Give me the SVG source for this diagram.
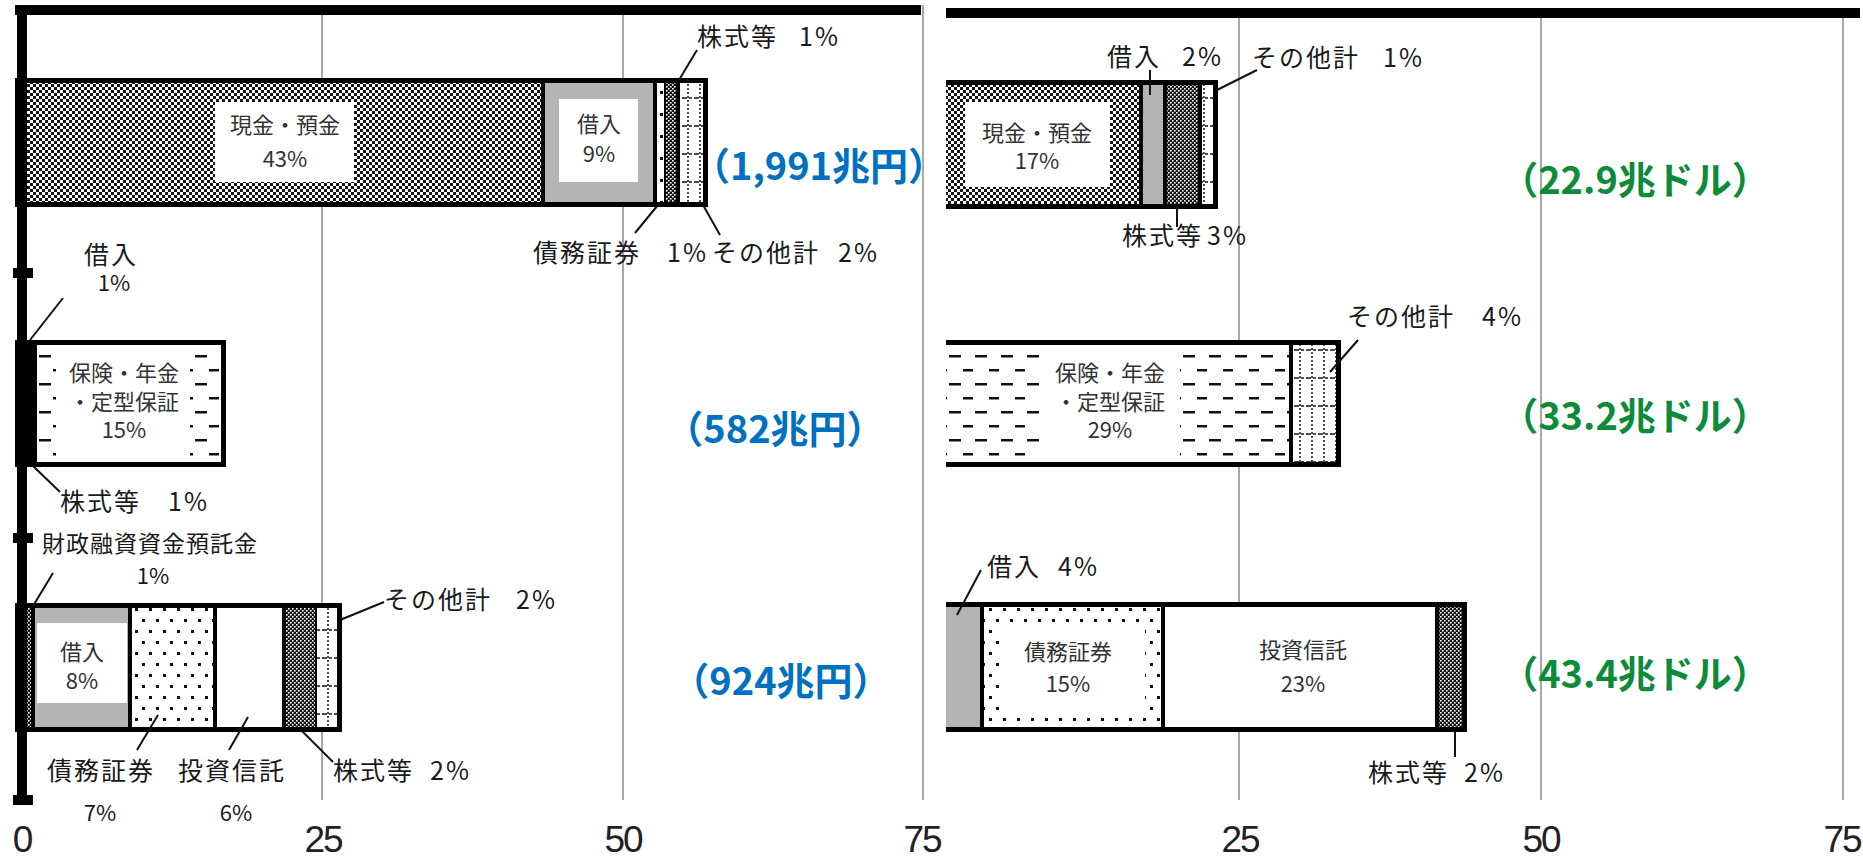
<svg xmlns="http://www.w3.org/2000/svg" width="1863" height="859" viewBox="0 0 1863 859">
<style>
.lbl{font-family:"Noto Sans CJK JP","Liberation Sans",sans-serif;font-size:25px;fill:#1a1a1a;letter-spacing:2px}
.sm{font-family:"Noto Sans CJK JP","Liberation Sans",sans-serif;font-size:22px;fill:#1a1a1a}
.in{font-family:"Noto Sans CJK JP","Liberation Sans",sans-serif;font-size:22px;fill:#333;text-anchor:middle}
.ax{font-family:"Liberation Sans",Arial,sans-serif;font-size:37px;fill:#222;text-anchor:middle;letter-spacing:-2px}
.tot{font-family:"Noto Sans CJK JP","Liberation Sans",sans-serif;font-weight:700;font-size:38px;text-anchor:middle}
.blue{fill:#0070C0}
.green{fill:#0E8B3A}
.ld{stroke:#111;stroke-width:2;fill:none}
.bd{fill:none;stroke:#000;stroke-width:5}
.dv{stroke:#000;stroke-width:4}
.dvt{stroke:#000;stroke-width:2}
.grid{stroke:#8a8a8a;stroke-width:1.5}
.gray{fill:#b4b4b4}
.wh{fill:#fff}
</style>
<defs>
<pattern id="pCash" width="6" height="6" patternUnits="userSpaceOnUse"><rect width="6" height="6" fill="#141414"/><rect width="3" height="3" fill="#fff"/><rect x="3" y="3" width="3" height="3" fill="#fff"/></pattern>
<pattern id="pStock" width="4" height="4" patternUnits="userSpaceOnUse"><rect width="4" height="4" fill="#111"/><rect width="1.6" height="1.6" fill="#fff"/><rect x="2" y="2" width="1.6" height="1.6" fill="#fff"/></pattern>
<pattern id="pDots" width="14" height="22" patternUnits="userSpaceOnUse"><rect width="14" height="22" fill="#fff"/><rect x="2" y="3" width="3" height="3" fill="#111"/><rect x="9" y="14" width="3" height="3" fill="#111"/></pattern>
<pattern id="pOther" width="12" height="28" patternUnits="userSpaceOnUse"><rect width="12" height="28" fill="#fff"/><line x1="4" y1="0" x2="4" y2="28" stroke="#111" stroke-width="1.5" stroke-dasharray="2 2"/><line x1="0" y1="14" x2="12" y2="14" stroke="#111" stroke-width="1.5" stroke-dasharray="3 2"/></pattern>
<pattern id="pIns" width="26" height="28" patternUnits="userSpaceOnUse"><rect width="26" height="28" fill="#fff"/><rect x="1" y="5" width="10" height="2.5" fill="#111"/><rect x="13" y="19" width="12" height="2.5" fill="#111"/></pattern>
<clipPath id="clipR"><rect x="946" y="0" width="917" height="859"/></clipPath>
</defs>
<rect width="1863" height="859" fill="#fff"/>

<g id="grid">
<line class="grid" x1="322" y1="15" x2="322" y2="800"/>
<line class="grid" x1="623" y1="15" x2="623" y2="800"/>
<line class="grid" x1="923" y1="5" x2="923" y2="800"/>
<line class="grid" x1="1239" y1="18" x2="1239" y2="800"/>
<line class="grid" x1="1541" y1="18" x2="1541" y2="800"/>
<line class="grid" x1="1843" y1="18" x2="1843" y2="800"/>
</g>

<g id="frame">
<rect x="15" y="5" width="906" height="10" fill="#000"/>
<rect x="946" y="8" width="914" height="10" fill="#000"/>
</g>

<g id="bar-L1">
<rect x="15" y="78" width="528" height="129" fill="url(#pCash)"/>
<rect x="543" y="78" width="112" height="129" class="gray"/>
<rect x="655" y="78" width="10" height="129" fill="url(#pDots)"/>
<rect x="665" y="78" width="13" height="129" fill="url(#pStock)"/>
<rect x="678" y="78" width="30" height="129" fill="url(#pOther)"/>
<rect x="215" y="102" width="139" height="80" class="wh"/>
<rect x="559" y="99" width="79" height="83" class="wh"/>
<line class="dv" x1="543" y1="78" x2="543" y2="207"/>
<line class="dv" x1="655" y1="78" x2="655" y2="207"/>
<line class="dvt" x1="665" y1="78" x2="665" y2="207"/>
<line class="dv" x1="678" y1="78" x2="678" y2="207"/>
<rect class="bd" x="17.5" y="80.5" width="688" height="124"/>
<text class="in" x="285" y="133">現金・預金</text>
<text class="in" x="285" y="167">43%</text>
<text class="in" x="599" y="132">借入</text>
<text class="in" x="599" y="162">9%</text>
</g>

<g id="bar-L2">
<rect x="15" y="340" width="22" height="127" fill="#000"/>
<rect x="37" y="340" width="189" height="127" fill="url(#pIns)"/>
<rect x="56" y="345" width="134" height="117" class="wh"/>
<rect class="bd" x="17.5" y="342.5" width="206" height="122"/>
<text class="in" x="124" y="381">保険・年金</text>
<text class="in" x="124" y="410">・定型保証</text>
<text class="in" x="124" y="438">15%</text>
</g>

<g id="bar-L3">
<rect x="15" y="603" width="18" height="129" fill="url(#pStock)"/>
<rect x="33" y="603" width="97" height="129" class="gray"/>
<rect x="130" y="603" width="85" height="129" fill="url(#pDots)"/>
<rect x="215" y="603" width="69" height="129" class="wh"/>
<rect x="284" y="603" width="32" height="129" fill="url(#pStock)"/>
<rect x="316" y="603" width="26" height="129" fill="url(#pOther)"/>
<rect x="37" y="623" width="90" height="80" class="wh"/>
<line class="dv" x1="33" y1="603" x2="33" y2="732"/>
<line class="dv" x1="130" y1="603" x2="130" y2="732"/>
<line class="dv" x1="215" y1="603" x2="215" y2="732"/>
<line class="dv" x1="284" y1="603" x2="284" y2="732"/>
<line class="dvt" x1="316" y1="603" x2="316" y2="732"/>
<rect class="bd" x="17.5" y="605.5" width="322" height="124"/>
<text class="in" x="82" y="660">借入</text>
<text class="in" x="82" y="689">8%</text>
</g>

<g id="axis-left">
<rect x="17" y="5" width="10" height="800" fill="#000"/>
<rect x="13" y="268" width="20" height="10" fill="#000"/>
<rect x="13" y="533" width="20" height="10" fill="#000"/>
<rect x="13" y="795" width="20" height="10" fill="#000"/>
</g>

<g id="bars-right" clip-path="url(#clipR)">
<g id="bar-R1">
<rect x="930" y="80" width="211" height="129" fill="url(#pCash)"/>
<rect x="1141" y="80" width="24" height="129" class="gray"/>
<rect x="1165" y="80" width="35" height="129" fill="url(#pStock)"/>
<rect x="1200" y="80" width="18" height="129" fill="url(#pOther)"/>
<rect x="965" y="102" width="145" height="85" class="wh"/>
<line class="dv" x1="1141" y1="80" x2="1141" y2="209"/>
<line class="dv" x1="1165" y1="80" x2="1165" y2="209"/>
<line class="dv" x1="1200" y1="80" x2="1200" y2="209"/>
<rect class="bd" x="932.5" y="82.5" width="283" height="124"/>
<text class="in" x="1037" y="141">現金・預金</text>
<text class="in" x="1037" y="169">17%</text>
</g>
<g id="bar-R2">
<rect x="930" y="340" width="361" height="127" fill="url(#pIns)"/>
<rect x="1291" y="340" width="50" height="127" fill="url(#pOther)"/>
<rect x="1040" y="345" width="140" height="117" class="wh"/>
<line class="dv" x1="1291" y1="340" x2="1291" y2="467"/>
<rect class="bd" x="932.5" y="342.5" width="406" height="122"/>
<text class="in" x="1110" y="381">保険・年金</text>
<text class="in" x="1110" y="410">・定型保証</text>
<text class="in" x="1110" y="438">29%</text>
</g>
<g id="bar-R3">
<rect x="930" y="602" width="52" height="130" class="gray"/>
<rect x="982" y="602" width="181" height="130" fill="url(#pDots)"/>
<rect x="1163" y="602" width="274" height="130" class="wh"/>
<rect x="1437" y="602" width="30" height="130" fill="url(#pStock)"/>
<rect x="1000" y="622" width="145" height="90" class="wh"/>
<line class="dv" x1="982" y1="602" x2="982" y2="732"/>
<line class="dv" x1="1163" y1="602" x2="1163" y2="732"/>
<line class="dv" x1="1437" y1="602" x2="1437" y2="732"/>
<rect class="bd" x="932.5" y="604.5" width="532" height="125"/>
<text class="in" x="1068" y="660">債務証券</text>
<text class="in" x="1068" y="692">15%</text>
<text class="in" x="1303" y="658">投資信託</text>
<text class="in" x="1303" y="692">23%</text>
</g>
</g>

<g id="connectors">
<line class="ld" x1="697" y1="50" x2="679" y2="80"/>
<line class="ld" x1="635" y1="233" x2="658" y2="205"/>
<line class="ld" x1="720" y1="235" x2="703" y2="205"/>
<line class="ld" x1="63" y1="298" x2="30" y2="340"/>
<line class="ld" x1="33" y1="466" x2="60" y2="492"/>
<line class="ld" x1="53" y1="573" x2="33" y2="606"/>
<line class="ld" x1="384" y1="602" x2="340" y2="620"/>
<line class="ld" x1="137" y1="750" x2="158" y2="715"/>
<line class="ld" x1="229" y1="750" x2="248" y2="717"/>
<line class="ld" x1="333" y1="762" x2="302" y2="731"/>
<line class="ld" x1="1150" y1="70" x2="1150" y2="95"/>
<line class="ld" x1="1257" y1="70" x2="1217" y2="90"/>
<line class="ld" x1="1177" y1="205" x2="1177" y2="227"/>
<line class="ld" x1="1358" y1="340" x2="1330" y2="372"/>
<line class="ld" x1="981" y1="570" x2="957" y2="615"/>
<line class="ld" x1="1455" y1="732" x2="1455" y2="757"/>
</g>

<g id="labels-left">
<text class="lbl" x="697" y="46">株式等<tspan x="799">1%</tspan></text>
<text class="lbl" x="533" y="262">債務証券<tspan x="667">1%</tspan></text>
<text class="lbl" x="712" y="262">その他計<tspan x="838">2%</tspan></text>
<text class="lbl" x="111" y="264" text-anchor="middle">借入</text>
<text class="sm" x="114" y="291" text-anchor="middle">1%</text>
<text class="lbl" x="60" y="511">株式等<tspan x="168">1%</tspan></text>
<text class="lbl" x="42" y="552" style="font-size:23px;letter-spacing:1px">財政融資資金預託金</text>
<text class="sm" x="153" y="584" text-anchor="middle">1%</text>
<text class="lbl" x="384" y="609">その他計<tspan x="516">2%</tspan></text>
<text class="lbl" x="47" y="780">債務証券</text>
<text class="sm" x="100" y="821" text-anchor="middle">7%</text>
<text class="lbl" x="178" y="780">投資信託</text>
<text class="sm" x="236" y="821" text-anchor="middle">6%</text>
<text class="lbl" x="333" y="780">株式等<tspan x="430">2%</tspan></text>
</g>

<g id="labels-right">
<text class="lbl" x="1107" y="66">借入<tspan x="1182">2%</tspan></text>
<text class="lbl" x="1252" y="67">その他計<tspan x="1383">1%</tspan></text>
<text class="lbl" x="1122" y="245">株式等<tspan x="1207">3%</tspan></text>
<text class="lbl" x="1347" y="326">その他計<tspan x="1482">4%</tspan></text>
<text class="lbl" x="987" y="576">借入<tspan x="1058">4%</tspan></text>
<text class="lbl" x="1368" y="782">株式等<tspan x="1464">2%</tspan></text>
</g>

<g id="totals">
<text class="tot blue" x="819" y="180">（1,991兆円）</text>
<text class="tot blue" x="775" y="443">（582兆円）</text>
<text class="tot blue" x="781" y="695">（924兆円）</text>
<text class="tot green" x="1635" y="194">（22.9兆ドル）</text>
<text class="tot green" x="1635" y="430">（33.2兆ドル）</text>
<text class="tot green" x="1635" y="688">（43.4兆ドル）</text>
</g>

<g id="axis-labels">
<text class="ax" x="22" y="852">0</text>
<text class="ax" x="323" y="852">25</text>
<text class="ax" x="623" y="852">50</text>
<text class="ax" x="922" y="852">75</text>
<text class="ax" x="1240" y="852">25</text>
<text class="ax" x="1541" y="852">50</text>
<text class="ax" x="1842" y="852">75</text>
</g>
</svg>
